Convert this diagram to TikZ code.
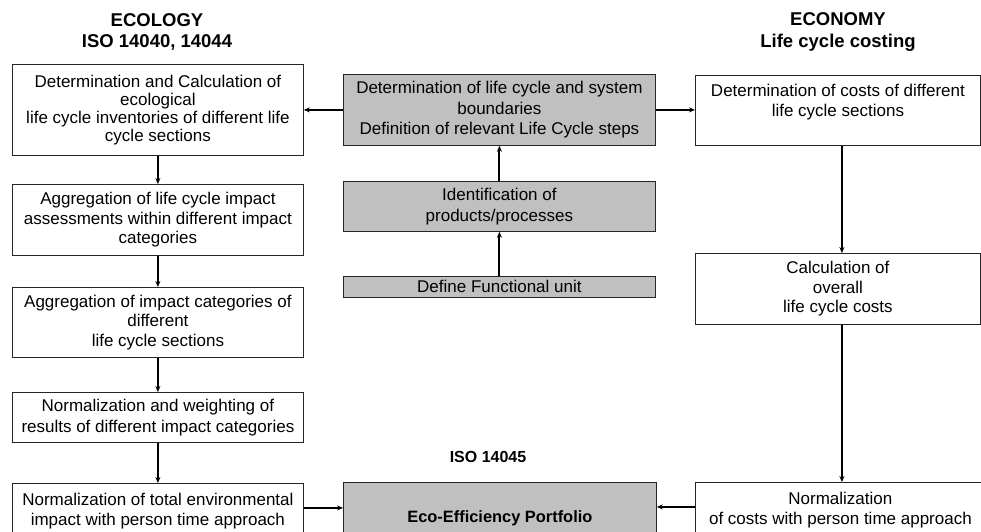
\documentclass[tikz,border=0pt]{standalone}
\usepackage{fontspec}
\setmainfont{Liberation Sans}
\usetikzlibrary{arrows.meta}
\definecolor{gboxgray}{RGB}{192,192,192}
\begin{document}
\begin{tikzpicture}[x=1pt,y=-1pt,
  box/.style={draw=black!85, line width=0.8pt, fill=white, align=center,
    font=\fontsize{17}{19.5}\selectfont, inner sep=0pt, anchor=north west},
  gbox/.style={box, fill=gboxgray},
  hdr/.style={align=center, font=\fontsize{18.5}{21.5}\selectfont\bfseries},
  conn/.style={line width=1.9pt, -{Stealth[length=6pt,width=5pt]}}]
\clip (0,0) rectangle (981,531);
\fill[white] (0,0) rectangle (981,531);

% headers
\node[hdr] (ecol) at (157,32) {ECOLOGY\\ISO 14040, 14044};
\node[hdr] (econ) at (838,32) {ECONOMY\\Life cycle costing};
\node[font=\fontsize{16}{19}\selectfont\bfseries] (iso) at (488,457) {ISO 14045};

% left column
\node[box, minimum width=291, minimum height=91, font=\fontsize{17}{17.8}\selectfont] (L1) at (12,64)
  {Determination and Calculation of\\ecological\\life cycle inventories of different life\\cycle sections};
\node[box, minimum width=291, minimum height=71] (L2) at (12,184)
  {Aggregation of life cycle impact\\assessments within different impact\\categories};
\node[box, minimum width=291, minimum height=70] (L3) at (12,287)
  {Aggregation of impact categories of\\different\\life cycle sections};
\node[box, minimum width=291, minimum height=50, font=\fontsize{17}{20.5}\selectfont] (L4) at (12,392)
  {Normalization and weighting of\\results of different impact categories};
\node[box, minimum width=291, minimum height=71] (L5) at (12,483)
  {Normalization of total environmental\\impact with person time approach\\\mbox{}};

% center column
\node[gbox, minimum width=312, minimum height=71, font=\fontsize{17}{20.5}\selectfont] (C1) at (343,74)
  {Determination of life cycle and system\\boundaries\\Definition of relevant Life Cycle steps};
\node[gbox, minimum width=312, minimum height=50, font=\fontsize{17}{20.5}\selectfont] (C2) at (343,181)
  {Identification of\\products/processes};
\node[gbox, minimum width=312, minimum height=21] (C3) at (343,276)
  {Define Functional unit};
\node[gbox, minimum width=313, minimum height=71, font=\fontsize{16.4}{19.5}\selectfont\bfseries] (Eco) at (343,482)
  {Eco-Efficiency Portfolio};

% right column
\node[box, minimum width=285, minimum height=70, font=\fontsize{17}{20.5}\selectfont] (R1) at (695,75)
  {Determination of costs of different\\life cycle sections\\\mbox{}};
\node[box, minimum width=285, minimum height=71] (R2) at (695,253)
  {Calculation of\\overall\\life cycle costs};
\node[box, minimum width=290, minimum height=71] (R3) at (695,482)
  {Normalization\\of costs with person time approach\\\mbox{}};

% connectors
\draw[conn] (C1.west) -- (C1.west -| L1.east);
\draw[conn] (C1.east) -- (C1.east -| R1.west);
\draw[conn] (C3.north) -- (C2.south);
\draw[conn] (C2.north) -- (C1.south);
\draw[conn] (L1.south) -- (L2.north);
\draw[conn] (L2.south) -- (L3.north);
\draw[conn] (L3.south) -- (L4.north);
\draw[conn] (L4.south) -- (L5.north);
\draw[conn] ([xshift=4pt]R1.south) -- ([xshift=4pt]R1.south |- R2.north);
\draw[conn] ([xshift=4pt]R2.south) -- ([xshift=4pt]R2.south |- R3.north);
\draw[conn] ([yshift=11pt]L5.east) -- ([yshift=11pt]L5.east -| Eco.west);
\draw[conn] ([yshift=11pt]R3.west) -- ([yshift=11pt]R3.west -| Eco.east);
\end{tikzpicture}
\end{document}
